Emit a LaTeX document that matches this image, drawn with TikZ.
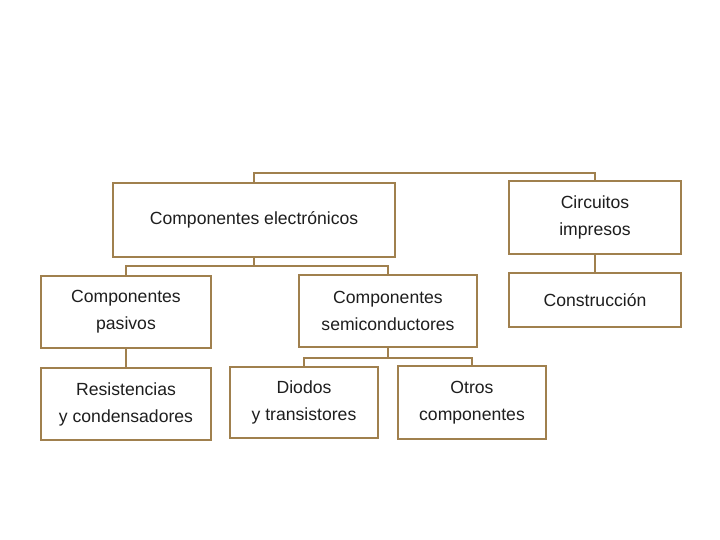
\documentclass[tikz,border=0pt]{standalone}
\usepackage{fontspec}
\setmainfont{Liberation Sans}
\definecolor{boxline}{RGB}{160,128,78}
\definecolor{txt}{RGB}{30,30,30}
\begin{document}
\begin{tikzpicture}[x=1pt,y=-1pt,
  box/.style={draw=boxline,line width=1.4pt,fill=white,inner sep=0pt,align=center,
    text=txt,font=\fontsize{17.6}{27}\selectfont},
  conn/.style={draw=boxline,line width=1.5pt}]
\useasboundingbox[fill=white] (0,0) rectangle (720,540);
\node[box,minimum width=282,minimum height=74] (ce) at (254,220) {Componentes electrónicos};
\node[box,minimum width=172,minimum height=73] (ci) at (595,217.5) {Circuitos\\impresos};
\node[box,minimum width=172,minimum height=54] (co) at (595,300) {Construcción};
\node[box,minimum width=170,minimum height=72] (pa) at (126,312) {Componentes\\pasivos};
\node[box,minimum width=178,minimum height=72] (se) at (388,311) {Componentes\\semiconductores};
\node[box,minimum width=170,minimum height=72] (re) at (126,404) {Resistencias\\y condensadores};
\node[box,minimum width=148,minimum height=71] (di) at (304,402.5) {Diodos\\y transistores};
\node[box,minimum width=148,minimum height=73] (ot) at (472,402.5) {Otros\\componentes};
\coordinate (h1) at (0,173);
\coordinate (h2) at (0,266);
\coordinate (h3) at (0,358);
\draw[conn] (ce.north) -- (ce.north |- h1) -| (ci.north);
\draw[conn] (ce.south) -- (ce.south |- h2);
\draw[conn] (pa.north) |- (h2 -| se.north) -- (se.north);
\draw[conn] (se.south) -- (se.south |- h3);
\draw[conn] (di.north) |- (h3 -| ot.north) -- (ot.north);
\draw[conn] (ci.south) -- (co.north);
\draw[conn] (pa.south) -- (re.north);
\end{tikzpicture}
\end{document}
